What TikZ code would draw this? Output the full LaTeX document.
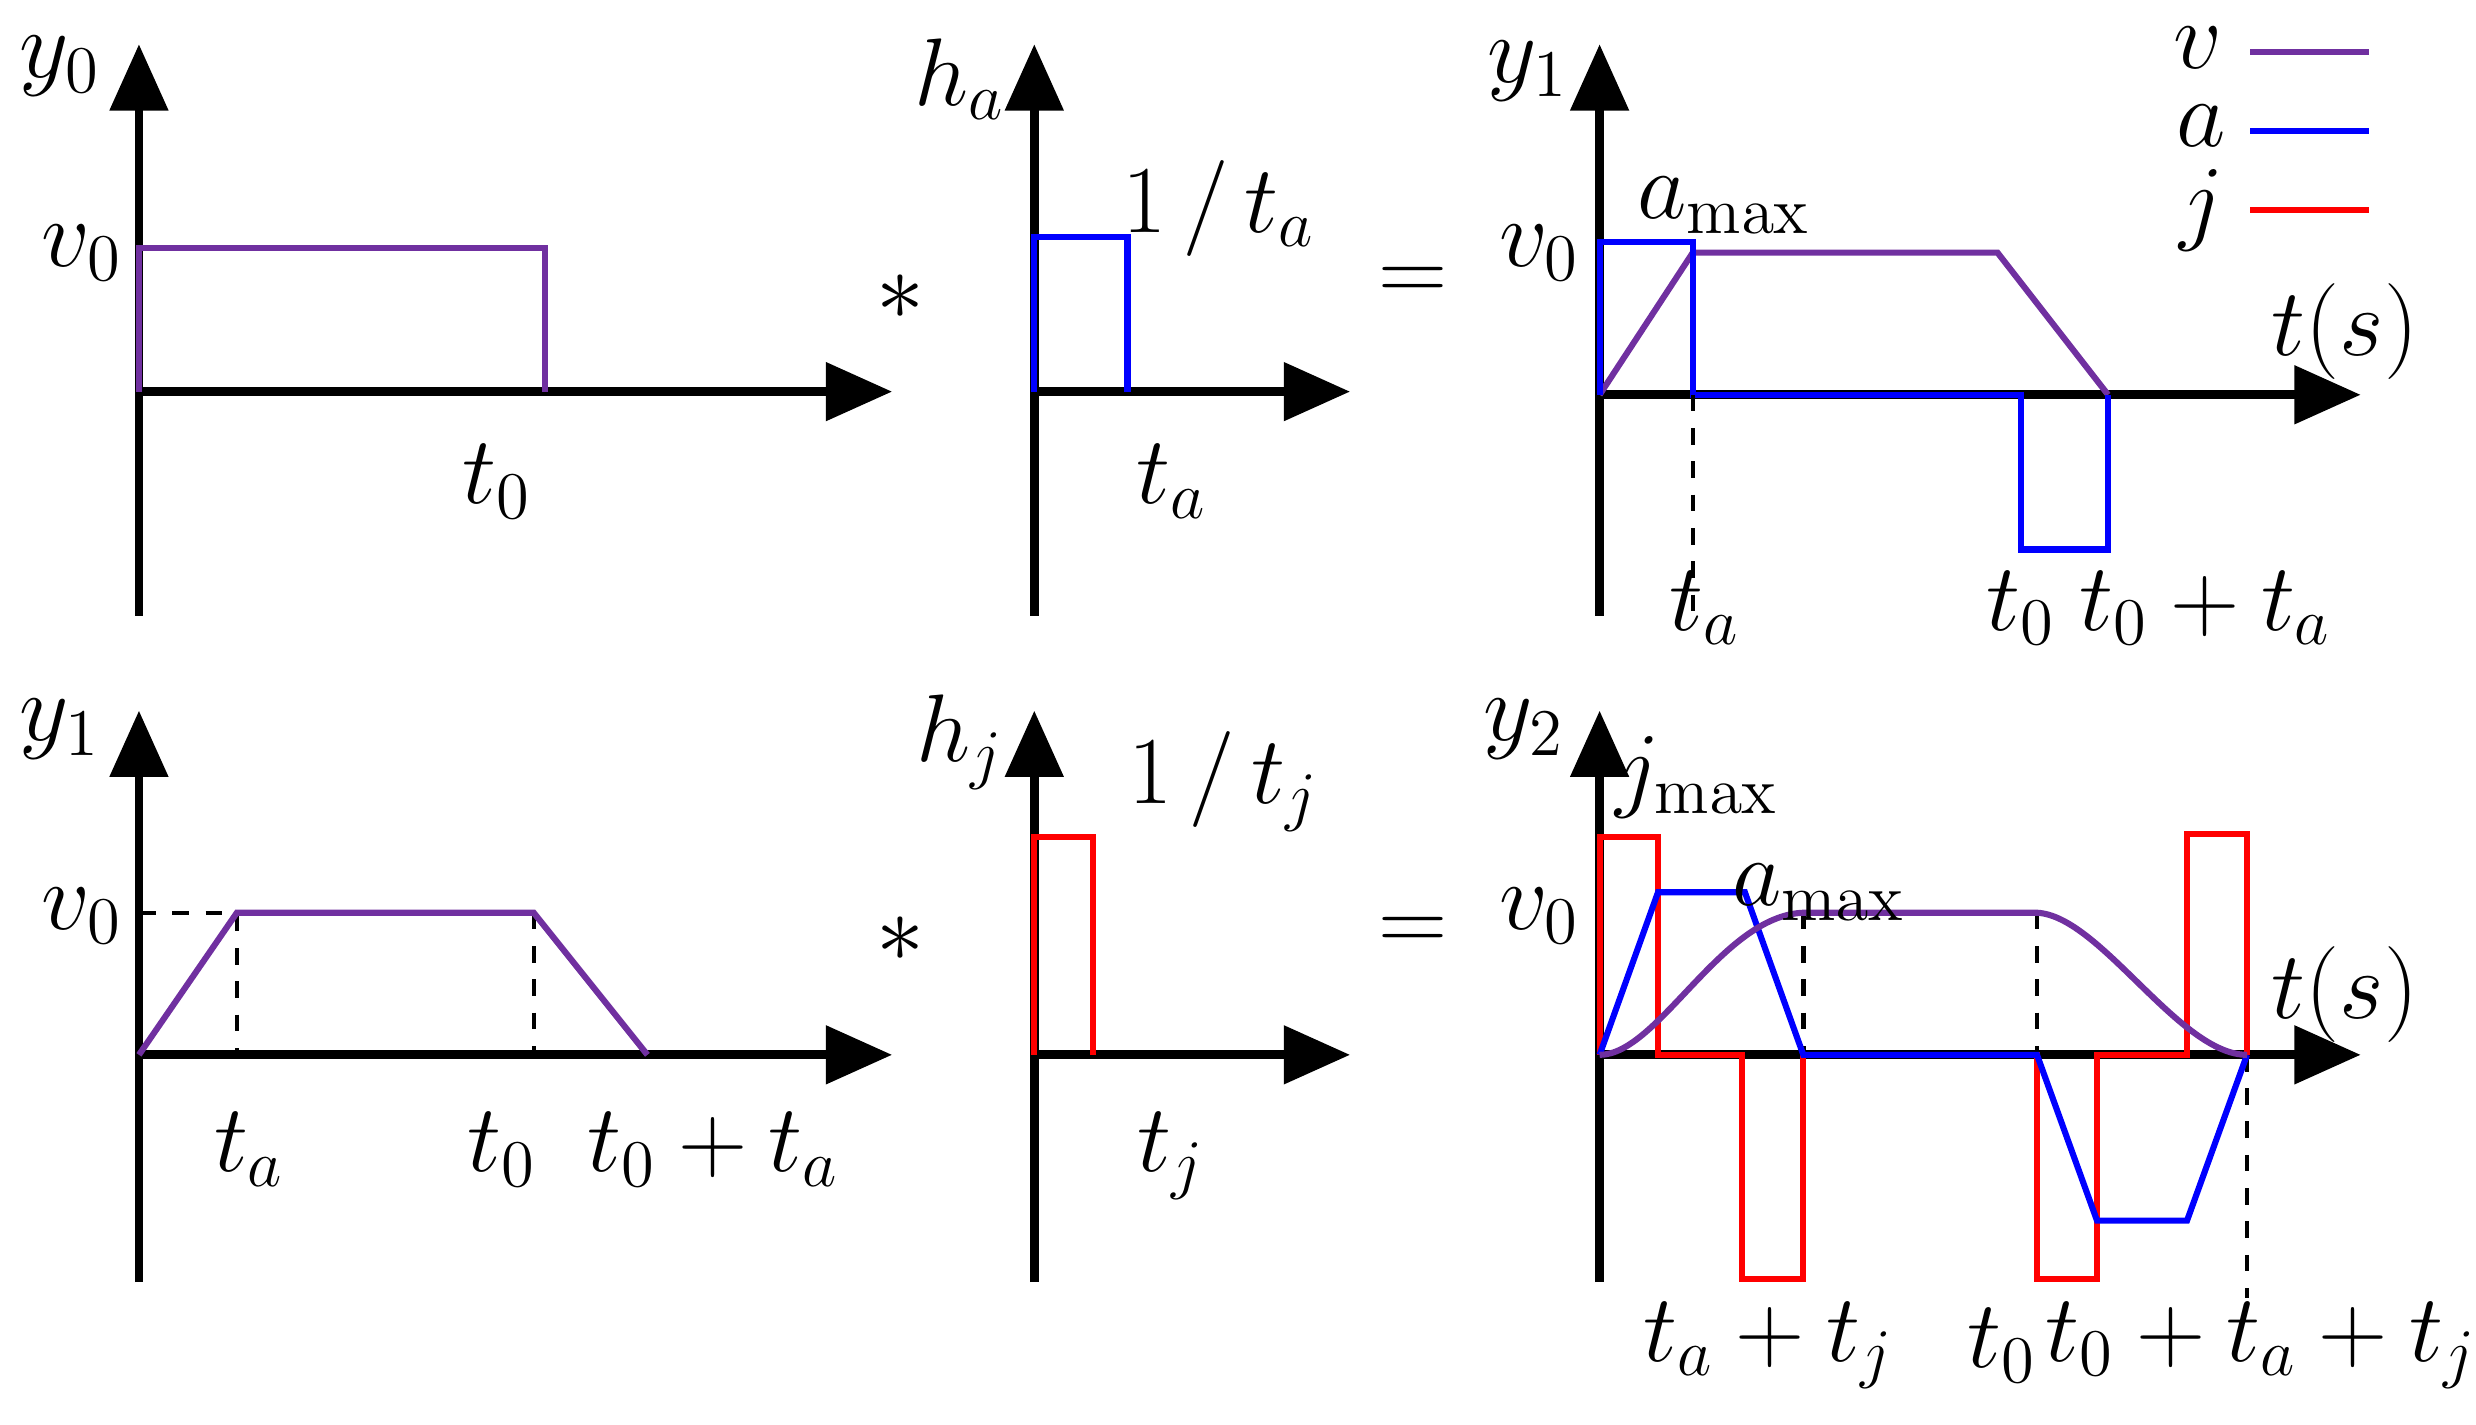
\documentclass[tikz,border=0pt]{standalone}
\usetikzlibrary{arrows.meta}
\begin{document}
\begin{tikzpicture}[x=0.01cm,y=-0.01cm,
 ax/.style={line width=1.6pt,-{Triangle[length=0.42cm,width=0.36cm]}},
 pv/.style={line width=1.1pt,color={rgb,255:red,112;green,48;blue,160}},
 bl/.style={line width=1.1pt,blue},
 rd/.style={line width=1.1pt,red},
 ds/.style={line width=0.8pt,dashed},
 lb/.style={font=\fontsize{17}{19}\selectfont,inner sep=0pt}]
\useasboundingbox (0,0) rectangle (1568,902);
% panel 1
\draw[ax] (88,390) -- (88,28);
\draw[ax] (88,248) -- (565,248);
\draw[pv] (88,248) -- (88,157) -- (345,157) -- (345,248);
\node[lb] (l1) at (38,42) {$y_0$};
\node[lb] (l2) at (52,160) {$v_0$};
\node[lb] (l3) at (315,305) {$t_0$};
% panel 2
\draw[ax] (655,390) -- (655,28);
\draw[ax] (655,248) -- (855,248);
\draw[bl] (655,248) -- (655,150) -- (714,150) -- (714,248);
\node[lb] (l4) at (608,50) {$h_a$};
\node[lb] (l5) at (772,132) {$1\,/\,t_a$};
\node[lb] (l6) at (742,305) {$t_a$};
\node[lb] (l7) at (570,188) {$*$};
\node[lb] (l8) at (895,180) {$=$};
% panel 3
\draw[ax] (1013,390) -- (1013,28);
\draw[ax] (1013,250) -- (1495,250);
\draw[pv] (1013,250) -- (1072,160) -- (1265,160) -- (1335,250);
\draw[bl] (1013,250) -- (1013,153) -- (1072,153) -- (1072,250) -- (1280,250) -- (1280,348) -- (1335,348) -- (1335,250);
\draw[ds] (1072,250) -- (1072,390);
\node[lb] (l9) at (968,45) {$y_1$};
\node[lb] (l10) at (975,160) {$v_0$};
\node[lb] (l11) at (1092,130) {$a_{\max}$};
\node[lb] (l12) at (1485,210) {$t(s)$};
\node[lb] (l13) at (1080,385) {$t_a$};
\node[lb] (l14) at (1280,385) {$t_0$};
\node[lb] (l15) at (1397,385) {$t_0+t_a$};
\node[lb] (lv) at (1392,30) {$v$};
\node[lb] (la) at (1394,80) {$a$};
\node[lb] (lj) at (1394,133) {$j$};
\draw[pv] (1425,33) -- (1500,33);
\draw[bl] (1425,83) -- (1500,83);
\draw[rd] (1425,133) -- (1500,133);
% panel 4
\draw[ax] (88,812) -- (88,450);
\draw[ax] (88,668) -- (565,668);
\draw[ds] (88,578) -- (150,578) -- (150,668);
\draw[ds] (338,578) -- (338,668);
\draw[pv] (88,668) -- (150,578) -- (338,578) -- (410,668);
\node[lb] (m1) at (38,462) {$y_1$};
\node[lb] (m2) at (52,580) {$v_0$};
\node[lb] (m3) at (158,728) {$t_a$};
\node[lb] (m4) at (318,728) {$t_0$};
\node[lb] (m5) at (452,728) {$t_0+t_a$};
% panel 5
\draw[ax] (655,812) -- (655,450);
\draw[ax] (655,668) -- (855,668);
\draw[rd] (655,668) -- (655,530) -- (692,530) -- (692,668);
\node[lb] (m6) at (608,470) {$h_j$};
\node[lb] (m7) at (775,495) {$1\,/\,t_j$};
\node[lb] (m8) at (742,732) {$t_j$};
\node[lb] (m9) at (570,595) {$*$};
\node[lb] (m10) at (895,592) {$=$};
% panel 6
\draw[ax] (1013,812) -- (1013,450);
\draw[ax] (1013,668) -- (1495,668);
\draw[ds] (1142,578) -- (1142,810);
\draw[ds] (1290,578) -- (1290,810);
\draw[ds] (1423,668) -- (1423,822);
\draw[rd] (1013,668) -- (1013,530) -- (1050,530) -- (1050,668) -- (1103,668) -- (1103,810) -- (1142,810) -- (1142,668) -- (1290,668) -- (1290,810) -- (1328,810) -- (1328,668) -- (1385,668) -- (1385,528) -- (1423,528) -- (1423,668);
\draw[bl] (1013,668) -- (1050,565) -- (1105,565) -- (1142,668) -- (1290,668) -- (1328,773) -- (1385,773) -- (1423,668);
\draw[pv] (1013,668) .. controls (1050,668) and (1090,580) .. (1142,578) -- (1290,578) .. controls (1330,580) and (1380,668) .. (1423,668);
\node[lb] (n1) at (965,462) {$y_2$};
\node[lb] (n2) at (1075,492) {$j_{\max}$};
\node[lb] (n3) at (1152,565) {$a_{\max}$};
\node[lb] (n4) at (975,580) {$v_0$};
\node[lb] (n5) at (1485,630) {$t(s)$};
\node[lb] (n6) at (1120,852) {$t_a+t_j$};
\node[lb] (n7) at (1268,852) {$t_0$};
\node[lb] (n8) at (1432,852) {$t_0+t_a+t_j$};
\end{tikzpicture}
\end{document}
